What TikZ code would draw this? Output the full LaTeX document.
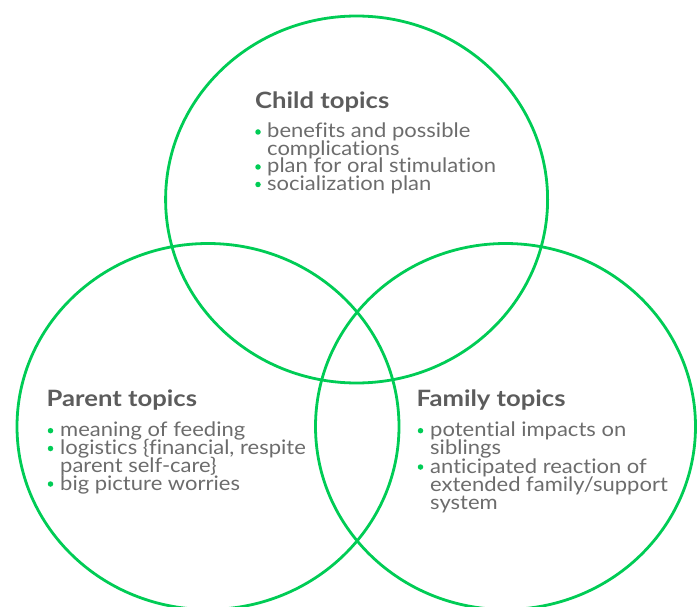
\documentclass[tikz,border=0pt]{standalone}
\usepackage{fontspec}
\newfontfamily\bodyfont[FakeStretch=1.10,Ligatures=NoCommon]{Lato}
\newfontfamily\headfont[FakeStretch=1.14]{Lato Bold}
\definecolor{vgreen}{RGB}{0,204,85}
\definecolor{tgray}{RGB}{108,108,108}
\definecolor{hgray}{RGB}{92,92,92}
\begin{document}
\begin{tikzpicture}[x=1pt,y=-1pt,
  ring/.style={draw=vgreen,line width=2.8pt},
  head/.style={anchor=base west,inner sep=0pt,text=hgray,font=\headfont\fontsize{22.5}{22.5}\selectfont},
  item/.style={anchor=base west,inner sep=0pt,text=tgray,font=\bodyfont\fontsize{20}{20}\selectfont},
  dot/.style={circle,fill=vgreen,inner sep=0pt,minimum size=5.5pt}]
\useasboundingbox (0,0) rectangle (697,607);
\clip (0,0) rectangle (697,607);
\draw[ring] (356.6,199.5) ellipse [x radius=191, y radius=183.5];
\draw[ring] (208,426.5) ellipse [x radius=191, y radius=183];
\draw[ring] (505.5,426.5) ellipse [x radius=190, y radius=183];
% Child
\node[head] (ch) at (255,108.5) {Child topics};
\node[item] (c1) at (267,138) {benefits and possible};
\node[item] (c2) at (267,155.5) {complications};
\node[item] (c3) at (267,173) {plan for oral stimulation};
\node[item] (c4) at (267,190.5) {socialization plan};
\node[dot] (cd1) at (258,132) {};
\node[dot] (cd3) at (258,167) {};
\node[dot] (cd4) at (258,184.5) {};
% Parent
\node[head] (ph) at (46.5,406.7) {Parent topics};
\node[item] (p1) at (60,436.7) {meaning of feeding};
\node[item] (p2) at (60,454.5) {logistics \{financial, respite};
\node[item] (p3) at (60,472) {parent self-care\}};
\node[item] (p4) at (60,490) {big picture worries};
\node[dot] (pd1) at (50.5,430.7) {};
\node[dot] (pd2) at (50.5,448.5) {};
\node[dot] (pd4) at (50.5,484) {};
% Family
\node[head] (fh) at (416.5,406.7) {Family topics};
\node[item] (f1) at (430,436.7) {potential impacts on};
\node[item] (f2) at (430,454.5) {siblings};
\node[item] (f3) at (430,473) {anticipated reaction of};
\node[item] (f4) at (430,491.5) {extended family/support};
\node[item] (f5) at (430,509.5) {system};
\node[dot] (fd1) at (420.5,430.7) {};
\node[dot] (fd3) at (420.5,467) {};
\end{tikzpicture}
\end{document}
